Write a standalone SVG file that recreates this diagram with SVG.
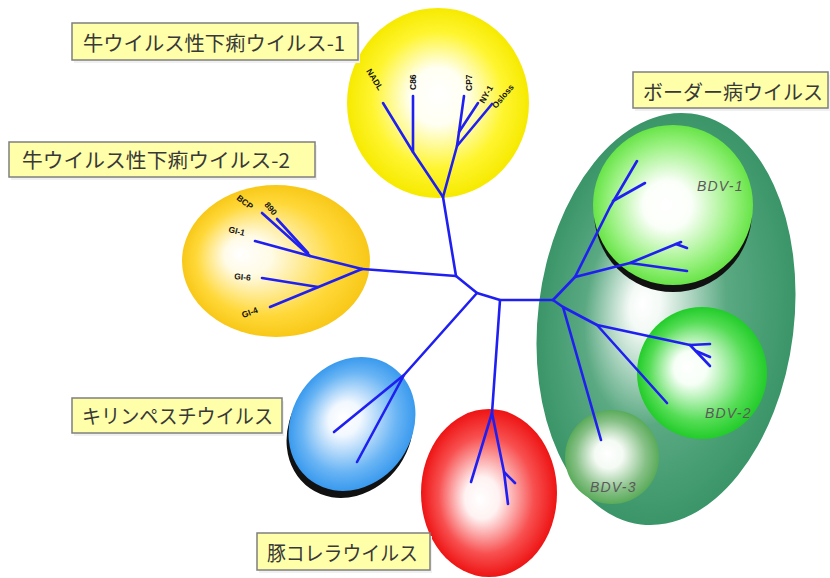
<svg xmlns="http://www.w3.org/2000/svg" width="830" height="578" viewBox="0 0 830 578">
  <defs>
    <radialGradient id="gYellow" cx="0.5" cy="0.5" r="0.5" fx="0.5" fy="0.45">
      <stop offset="0" stop-color="#ffffff"/>
      <stop offset="0.3" stop-color="#fffff2"/>
      <stop offset="0.72" stop-color="#fff530"/>
      <stop offset="1" stop-color="#f6ea00"/>
    </radialGradient>
    <radialGradient id="gGold" cx="0.5" cy="0.5" r="0.5" fx="0.3" fy="0.45">
      <stop offset="0" stop-color="#ffffff"/>
      <stop offset="0.25" stop-color="#fffbe6"/>
      <stop offset="0.75" stop-color="#ffd838"/>
      <stop offset="1" stop-color="#f8c818"/>
    </radialGradient>
    <radialGradient id="gBorder" cx="0.5" cy="0.5" r="0.5" fx="0.4" fy="0.47">
      <stop offset="0" stop-color="#ffffff"/>
      <stop offset="0.12" stop-color="#f4faf6"/>
      <stop offset="0.55" stop-color="#5aa982"/>
      <stop offset="1" stop-color="#3a9568"/>
    </radialGradient>
    <radialGradient id="gBdv1" cx="0.5" cy="0.5" r="0.5" fx="0.45" fy="0.5">
      <stop offset="0" stop-color="#ffffff"/>
      <stop offset="0.3" stop-color="#fbfff9"/>
      <stop offset="0.75" stop-color="#9cf283"/>
      <stop offset="1" stop-color="#68e448"/>
    </radialGradient>
    <radialGradient id="gBdv2" cx="0.5" cy="0.5" r="0.5" fx="0.38" fy="0.45">
      <stop offset="0" stop-color="#ffffff"/>
      <stop offset="0.25" stop-color="#f6fff6"/>
      <stop offset="0.75" stop-color="#55dd55"/>
      <stop offset="1" stop-color="#22cc2a"/>
    </radialGradient>
    <radialGradient id="gBdv3" cx="0.5" cy="0.5" r="0.5" fx="0.45" fy="0.46">
      <stop offset="0" stop-color="#ffffff"/>
      <stop offset="0.3" stop-color="#f4faf4"/>
      <stop offset="0.75" stop-color="#86c086"/>
      <stop offset="1" stop-color="#5aab5a"/>
    </radialGradient>
    <radialGradient id="gBlue" cx="0.5" cy="0.5" r="0.5" fx="0.4" fy="0.5">
      <stop offset="0" stop-color="#ffffff"/>
      <stop offset="0.25" stop-color="#f2f8ff"/>
      <stop offset="0.75" stop-color="#68b4f4"/>
      <stop offset="1" stop-color="#3a9aee"/>
    </radialGradient>
    <radialGradient id="gRed" cx="0.5" cy="0.5" r="0.5" fx="0.43" fy="0.54">
      <stop offset="0" stop-color="#ffffff"/>
      <stop offset="0.25" stop-color="#fff2f2"/>
      <stop offset="0.7" stop-color="#f85050"/>
      <stop offset="1" stop-color="#ee1414"/>
    </radialGradient>
  </defs>
  <style>
    .box { fill: #ffffaa; stroke: #7f7f7f; stroke-width: 1.5; }
    .boxshade { fill: #f0f0f0; }
    .lbl { font-family: "Noto Sans CJK JP", "Noto Sans", sans-serif; font-size: 20px; fill: #383838; }
    .leaf { font-family: "Liberation Sans", Arial, sans-serif; font-size: 8.5px; font-weight: bold; fill: #111111; }
    .bdv { font-family: "Liberation Sans", Arial, sans-serif; font-size: 14px; font-style: italic; fill: #5a5a5a; letter-spacing: 1.2px; }
    .tree { fill: none; stroke: #1f1ff2; stroke-width: 2.6; stroke-linecap: round; stroke-linejoin: round; }
  </style>

  <rect width="830" height="578" fill="#ffffff"/>

  <!-- border disease cluster, drawn first so the sub-groups sit on top -->
  <g id="border-disease">
    <ellipse cx="666" cy="319" rx="128" ry="207" transform="rotate(7 666 319)" fill="url(#gBorder)"/>
  </g>

  <g id="bdv-1">
    <ellipse cx="673" cy="212" rx="79" ry="80" fill="#111111"/>
    <ellipse cx="673" cy="205" rx="80" ry="80" fill="url(#gBdv1)"/>
    <text class="bdv" x="697" y="191">BDV-1</text>
  </g>

  <g id="bdv-2">
    <ellipse cx="702" cy="373" rx="65" ry="66" fill="url(#gBdv2)"/>
    <text class="bdv" x="705" y="418">BDV-2</text>
  </g>

  <g id="bdv-3">
    <ellipse cx="612" cy="457" rx="47" ry="47" fill="url(#gBdv3)"/>
    <text class="bdv" x="590" y="492">BDV-3</text>
  </g>

  <g id="bvdv-1">
    <ellipse cx="438" cy="103" rx="91" ry="95" fill="url(#gYellow)"/>
    <text class="leaf" transform="translate(366 71) rotate(58)">NADL</text>
    <text class="leaf" transform="translate(416 90) rotate(-90)">C86</text>
    <text class="leaf" transform="translate(472 91) rotate(-90)">CP7</text>
    <text class="leaf" transform="translate(484 104) rotate(-60)">NY-1</text>
    <text class="leaf" transform="translate(496 109) rotate(-50)">Osloss</text>
  </g>

  <g id="bvdv-2">
    <ellipse cx="276" cy="261" rx="94" ry="76" fill="url(#gGold)"/>
    <text class="leaf" transform="translate(236 199) rotate(38)">BCP</text>
    <text class="leaf" transform="translate(264 205) rotate(50)">890</text>
    <text class="leaf" transform="translate(228 232) rotate(14)">GI-1</text>
    <text class="leaf" transform="translate(234 279) rotate(6)">GI-6</text>
    <text class="leaf" transform="translate(243 318) rotate(-20)">GI-4</text>
  </g>

  <g id="rinderpest">
    <ellipse cx="350" cy="431" rx="60" ry="70" transform="rotate(35 350 431)" fill="#111111"/>
    <ellipse cx="352" cy="424" rx="60" ry="70" transform="rotate(35 352 424)" fill="url(#gBlue)"/>
  </g>

  <g id="hog-cholera">
    <ellipse cx="489" cy="493" rx="68" ry="84" fill="url(#gRed)"/>
  </g>

  <!-- tree branches -->
  <g id="connectors" class="tree">
    <path d="M443,197 L456,276"/>
    <path d="M362,269 L456,276"/>
    <path d="M456,276 L477,293 L500,300 L553,300"/>
    <!-- rinderpest -->
    <path d="M477,293 L404,375 L334,432"/>
    <path d="M404,375 L357,462"/>
    <!-- hog cholera -->
    <path d="M500,300 L492,413 L471,482"/>
    <path d="M492,413 L504,472 L515,483"/>
    <path d="M504,472 L508,504"/>
    <!-- BVDV-1 -->
    <path d="M443,197 L413,152 L383,103"/>
    <path d="M413,152 L413,96"/>
    <path d="M443,197 L457,146 L492,104"/>
    <path d="M457,146 L459,132 L464,96"/>
    <path d="M459,132 L478,103"/>
    <!-- BVDV-2 -->
    <path d="M362,269 L310,256 L262,213"/>
    <path d="M308,253 L277,219"/>
    <path d="M310,256 L255,241"/>
    <path d="M362,269 L270,307"/>
    <path d="M318,287 L262,278"/>
    <!-- border disease -->
    <path d="M553,300 L575,277 L610,207 L637,161"/>
    <path d="M613,201 L645,183"/>
    <path d="M575,277 L630,263 L681,242"/>
    <path d="M676,244 L687,248"/>
    <path d="M630,263 L687,271"/>
    <path d="M553,300 L563,307 L601,440"/>
    <path d="M563,307 L597,325 L690,345 L710,344"/>
    <path d="M690,345 L710,366"/>
    <path d="M696,351 L710,357"/>
    <path d="M597,325 L667,403"/>
  </g>

  <!-- caption boxes -->
  <g id="label-bvdv-1">
    <rect class="boxshade" x="74" y="26" width="286" height="37"/>
    <rect class="box" x="72" y="23" width="286" height="37"/>
    <text class="lbl" x="83" y="51" textLength="262" lengthAdjust="spacingAndGlyphs">牛ウイルス性下痢ウイルス-1</text>
  </g>
  <g id="label-bvdv-2">
    <rect class="boxshade" x="11" y="145" width="306" height="35"/>
    <rect class="box" x="9" y="142" width="306" height="35"/>
    <text class="lbl" x="22" y="168" textLength="268" lengthAdjust="spacingAndGlyphs">牛ウイルス性下痢ウイルス-2</text>
  </g>
  <g id="label-border-disease">
    <rect class="boxshade" x="635" y="75" width="195" height="36"/>
    <rect class="box" x="633" y="72" width="195" height="36"/>
    <text class="lbl" x="643" y="100" textLength="180" lengthAdjust="spacingAndGlyphs">ボーダー病ウイルス</text>
  </g>
  <g id="label-rinderpest">
    <rect class="boxshade" x="74" y="401" width="210" height="35"/>
    <rect class="box" x="72" y="398" width="210" height="35"/>
    <text class="lbl" x="82" y="424" textLength="191" lengthAdjust="spacingAndGlyphs">キリンペスチウイルス</text>
  </g>
  <g id="label-hog-cholera">
    <rect class="boxshade" x="259" y="536" width="173" height="37"/>
    <rect class="box" x="257" y="533" width="173" height="37"/>
    <text class="lbl" x="267" y="561" textLength="151" lengthAdjust="spacingAndGlyphs">豚コレラウイルス</text>
  </g>
</svg>
